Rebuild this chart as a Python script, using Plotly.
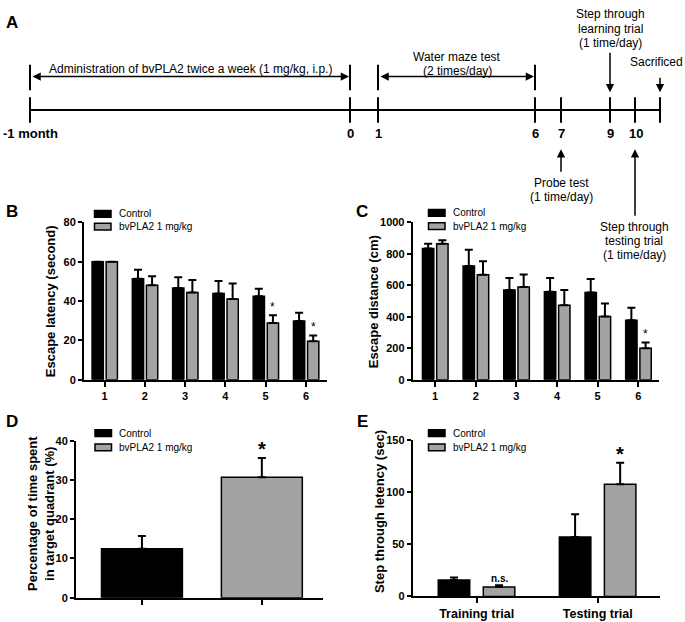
import plotly.graph_objects as go

W, H = 685, 622
FONT = "Liberation Sans, Arial, sans-serif"
GRAY = "#a3a3a3"

# ---------------- data ----------------
days = [1, 2, 3, 4, 5, 6]
latency_ctrl = [60, 51.4, 46.6, 43.9, 42.4, 29.9]
latency_ctrl_err = [0, 4.5, 5.5, 6.3, 3.9, 4.2]
latency_pla = [60, 48.1, 44.3, 41.1, 28.8, 19.5]
latency_pla_err = [0, 4.5, 6.4, 7.8, 4.0, 3.0]
latency_sig = ["", "", "", "", "*", "*"]

distance_ctrl = [834, 723, 570, 559, 555, 378]
distance_ctrl_err = [31, 104, 77, 88, 85, 79]
distance_pla = [865, 667, 590, 474, 401, 200]
distance_pla_err = [21, 86, 79, 96, 83, 37]
distance_sig = ["", "", "", "", "", "*"]

probe_groups = [0, 1]
probe_values = [12.5, 30.7]
probe_err = [3.25, 4.9]
probe_sig = ["", "*"]

trials = ["Training trial", "Testing trial"]
step_ctrl = [15.7, 57.1]
step_ctrl_err = [2.5, 21.7]
step_pla = [9.1, 107.6]
step_pla_err = [1.6, 20.7]
step_sig = ["n.s.", "*"]

series_names = ["Control", "bvPLA2 1 mg/kg"]

timeline_labels = ["-1 month", "0", "1", "6", "7", "9", "10", ""]


def px(x):
    return x / W


def py(y):
    return 1 - y / H


fig = go.Figure()

BAR_LINE = dict(color="black", width=1.5)


def err(arr):
    return dict(type="data", symmetric=False, array=arr, arrayminus=[0] * len(arr),
                color="black", thickness=2, width=4)


def add_bar(xa, ya, x, y, e, color, width, offset, name):
    fig.add_trace(go.Bar(x=x, y=y, width=width, offset=offset, name=name,
                         marker=dict(color=color, line=BAR_LINE), error_y=err(e),
                         xaxis=xa, yaxis=ya, showlegend=False))


# B
add_bar("x", "y", days, latency_ctrl, latency_ctrl_err, "black", 0.28, -0.31, series_names[0])
add_bar("x", "y", days, latency_pla, latency_pla_err, GRAY, 0.28, 0.04, series_names[1])
# C
add_bar("x2", "y2", days, distance_ctrl, distance_ctrl_err, "black", 0.28, -0.31, series_names[0])
add_bar("x2", "y2", days, distance_pla, distance_pla_err, GRAY, 0.28, 0.04, series_names[1])
# D
fig.add_trace(go.Bar(x=probe_groups, y=probe_values, width=0.675,
                     marker=dict(color=["black", GRAY], line=BAR_LINE),
                     error_y=err(probe_err), xaxis="x3", yaxis="y3", showlegend=False))
# E
add_bar("x4", "y4", [0, 1], step_ctrl, step_ctrl_err, "black", 0.26, -0.317, series_names[0])
add_bar("x4", "y4", [0, 1], step_pla, step_pla_err, GRAY, 0.26, 0.055, series_names[1])

ax_common = dict(showline=True, linecolor="black", linewidth=2, ticks="outside", ticklen=5,
                 tickwidth=2, tickcolor="black", showgrid=False, zeroline=False,
                 tickfont=dict(family=FONT, size=11, color="black", weight="bold"),
                 fixedrange=True)
ay_common = dict(ax_common, ticklen=4)

fig.update_layout(
    width=W, height=H, margin=dict(l=0, r=0, t=0, b=0),
    paper_bgcolor="white", plot_bgcolor="white", barmode="overlay",
    font=dict(family=FONT, color="black"),
    xaxis=dict(ax_common, domain=[px(84), px(327.3)], range=[0.49, 6.53], tickvals=days, anchor="y"),
    yaxis=dict(ay_common, domain=[py(381), py(220.7)], range=[0, 80], tickvals=[0, 20, 40, 60, 80], anchor="x"),
    xaxis2=dict(ax_common, domain=[px(412.7), px(659)], range=[0.45, 6.51], tickvals=days, anchor="y2"),
    yaxis2=dict(ay_common, domain=[py(381), py(220.7)], range=[0, 1000], tickvals=[0, 200, 400, 600, 800, 1000], anchor="x2"),
    xaxis3=dict(ax_common, domain=[px(76), px(323)], range=[-0.55, 1.51], tickvals=probe_groups, ticktext=["", ""], anchor="y3"),
    yaxis3=dict(ay_common, domain=[py(603.3), py(443.3)], range=[0, 40], tickvals=[0, 10, 20, 30, 40], anchor="x3"),
    xaxis4=dict(ax_common, domain=[px(412.7), px(660)], range=[-0.528, 1.514], tickvals=[0, 1], ticktext=trials, anchor="y4"),
    yaxis4=dict(ay_common, domain=[py(602), py(442.7)], range=[0, 150], tickvals=[0, 50, 100, 150], anchor="x4"),
)
fig.update_layout(xaxis4_tickfont=dict(family=FONT, size=12.5, color="black", weight="bold"))

ann = []
shapes = []


def text(x, y, s, size=12, bold=False, xanchor="center", angle=0):
    ann.append(dict(x=px(x), y=py(y), xref="paper", yref="paper", text=s, showarrow=False,
                    xanchor=xanchor, yanchor="middle", textangle=angle,
                    font=dict(family=FONT, size=size, color="black", weight="bold" if bold else "normal")))


# panel letters
for L, (x, y) in zip("ABCDE", [(12, 17), (12, 210), (362, 210), (12, 424), (362, 424)]):
    text(x, y, L, size=17, bold=True)

# axis titles
text(50, 301, "Escape latency (second)", 13, True, angle=-90)
text(373, 302, "Escape distance (cm)", 13, True, angle=-90)
text(41, 518, "Percentage of time spent<br>in target quadrant (%)", 13, True, angle=-90)
text(379, 515, "Step through letency (sec)", 13, True, angle=-90)


# legends
def legend(x0, y_rows):
    for name, color, yc in zip(series_names, ["black", GRAY], y_rows):
        shapes.append(dict(type="rect", xref="paper", yref="paper", x0=px(x0), x1=px(x0 + 16.5),
                           y0=py(yc + 3.5), y1=py(yc - 3.5), fillcolor=color,
                           line=dict(color="black", width=1.5)))
        text(x0 + 22, yc, name, 10, False, xanchor="left")


legend(94.5, [212, 225])
legend(428.5, [211, 224.5])
legend(95, [435.5, 450])
legend(428.5, [435.5, 450])


# significance marks
def sig(xa, ya, xs, tops, marks, size, bold, yshift):
    for x, t, m in zip(xs, tops, marks):
        if m:
            ann.append(dict(x=x, y=t, xref=xa, yref=ya, text=m, showarrow=False, yanchor="bottom",
                            yshift=yshift,
                            font=dict(family=FONT, size=size, color="black", weight="bold" if bold else "normal")))


sig("x", "y", [d + 0.18 for d in days], [v + e for v, e in zip(latency_pla, latency_pla_err)], latency_sig, 12, False, -1)
sig("x2", "y2", [d + 0.18 for d in days], [v + e for v, e in zip(distance_pla, distance_pla_err)], distance_sig, 12, False, -1)
sig("x3", "y3", probe_groups, [v + e for v, e in zip(probe_values, probe_err)], probe_sig, 20, True, -4)
sig("x4", "y4", [0.185, 1.185], [v + e for v, e in zip(step_pla, step_pla_err)], ["", "*"], 20, True, -4)
sig("x4", "y4", [0.185], [step_pla[0] + step_pla_err[0]], ["n.s."], 10, True, -1)

# ---------------- panel A timeline (schematic) ----------------
tl_x = [30, 350, 378, 535, 561, 610, 635, 660]
LINE = dict(color="black", width=2)
shapes.append(dict(type="line", xref="paper", yref="paper", x0=px(tl_x[0]), x1=px(tl_x[-1]),
                   y0=py(106), y1=py(106), line=LINE))
for x in tl_x:
    shapes.append(dict(type="line", xref="paper", yref="paper", x0=px(x), x1=px(x),
                       y0=py(93), y1=py(119), line=LINE))
for lab, x in zip(timeline_labels, tl_x):
    if lab == "-1 month":
        text(1, 130, lab, 13, True, xanchor="left")
    elif lab:
        text(x + (1 if lab == "10" else 0), 130, lab, 13, True)

# brackets
for x in [30, 350, 378, 535]:
    shapes.append(dict(type="line", xref="paper", yref="paper", x0=px(x), x1=px(x),
                       y0=py(60), y1=py(86), line=LINE))


def arrow(xh, yh, dx, dy, both=False):
    ann.append(dict(x=px(xh), y=py(yh), xref="paper", yref="paper", ax=dx, ay=dy, text="",
                    showarrow=True, arrowhead=2, arrowsize=1.1, arrowwidth=1.5, arrowcolor="black",
                    arrowside="end+start" if both else "end", startarrowhead=2, startarrowsize=1.1))


arrow(349, 72, -318, 0, both=True)
arrow(534, 72, -155, 0, both=True)
arrow(610, 88, 0, -41)
arrow(660, 88, 0, -16)
arrow(561, 146, 0, 24)
arrow(635, 146, 0, 68)

text(190, 64, "Administration of bvPLA2 twice a week (1 mg/kg, i.p.)", 12)
text(457, 52, "Water maze test", 12)
text(457, 66, "(2 times/day)", 12)
text(610, 8, "Step through", 12)
text(610, 23, "learning trial", 12)
text(610, 38, "(1 time/day)", 12)
text(656, 57, "Sacrificed", 12)
text(561, 180, "Probe test", 12)
text(561, 195, "(1 time/day)", 12)
text(634, 225, "Step through", 12)
text(634, 240, "testing trial", 12)
text(634, 254, "(1 time/day)", 12)

fig.update_layout(annotations=ann, shapes=shapes)
fig.write_html("out.html", config={"displayModeBar": False},
               post_script="document.body.style.margin='0';document.body.style.padding='0';")
